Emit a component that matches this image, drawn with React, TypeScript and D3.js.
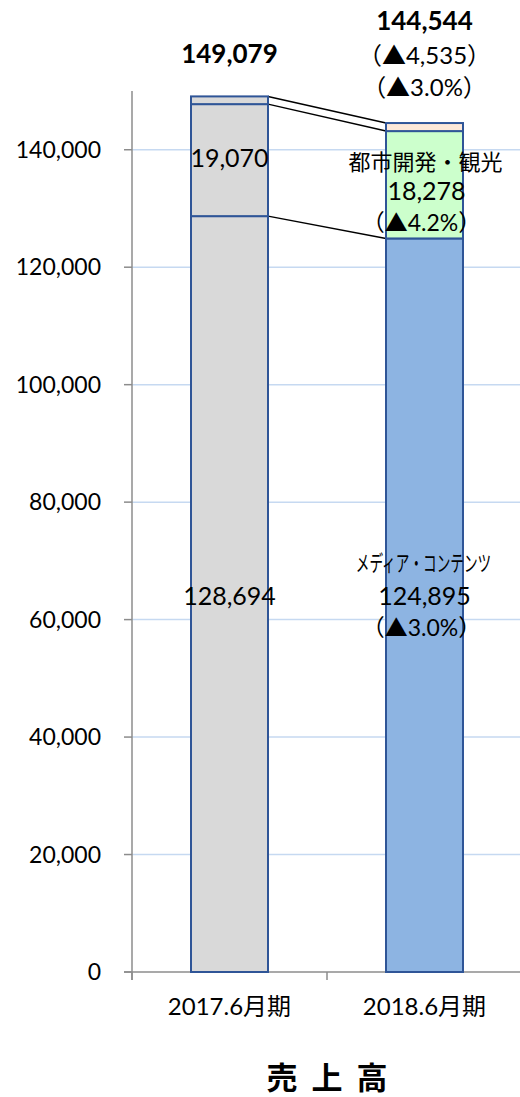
import React, { useRef, useEffect } from 'react';
import * as d3 from 'd3';

// ---- data ----
const categories = ['2017.6月期', '2018.6月期'];
const segmentKeys = ['media', 'urban', 'other'];
const mediaValues = [128694, 124895];
const urbanValues = [19070, 18278];
const otherValues = [1315, 1371];
const totals = [149079, 144544];
const yTicks = [0, 20000, 40000, 60000, 80000, 100000, 120000, 140000];

const W = 520;
const H = 1097;
const FONT = "Lato, 'Noto Sans CJK JP', sans-serif";
const JP = "'Noto Sans CJK JP', Lato, sans-serif";

const COLORS = {
  grey: '#D9D9D9',
  media: '#8DB4E2',
  urban: '#CCFFCC',
  other: '#FDE9D9',
  border: '#2F5597',
  grid: '#C6D9F1',
  axis: '#8C8C8C',
};

export default function App() {
  const svgRef = useRef<SVGSVGElement | null>(null);

  useEffect(() => {
    const svg = d3.select(svgRef.current);
    svg.selectAll('*').remove();

    const x = d3.scaleBand().domain(categories).range([132, 522]).paddingInner(0).paddingOuter(0);
    const y = d3.scaleLinear().domain([0, 150000]).range([972, 91]);
    const barW = 77;
    const bx = (c: string) => (x(c) as number) + x.bandwidth() / 2 - barW / 2;

    const rows = categories.map((c, i) => ({
      cat: c,
      media: mediaValues[i],
      urban: urbanValues[i],
      other: otherValues[i],
    }));
    const stacked = d3.stack<any>().keys(segmentKeys)(rows);

    // gridlines
    svg.append('g')
      .selectAll('line')
      .data(yTicks.slice(1))
      .enter()
      .append('line')
      .attr('x1', 132).attr('x2', W)
      .attr('y1', d => y(d)).attr('y2', d => y(d))
      .attr('stroke', COLORS.grid)
      .attr('stroke-width', 1.5);

    // y axis
    const ya = svg.append('g');
    ya.append('line')
      .attr('x1', 132).attr('x2', 132).attr('y1', y(150000)).attr('y2', y(0) + 8)
      .attr('stroke', COLORS.axis).attr('stroke-width', 1.5);
    ya.selectAll('.tick')
      .data(yTicks)
      .enter()
      .append('line')
      .attr('x1', 124).attr('x2', 132)
      .attr('y1', d => y(d)).attr('y2', d => y(d))
      .attr('stroke', COLORS.axis).attr('stroke-width', 1.5);
    ya.selectAll('text')
      .data(yTicks)
      .enter()
      .append('text')
      .attr('x', 101)
      .attr('y', d => y(d))
      .attr('dy', '0.36em')
      .attr('text-anchor', 'end')
      .attr('font-family', FONT)
      .attr('font-size', 23)
      .attr('fill', '#000')
      .text(d => d3.format(',')(d));

    // x axis
    const xa = svg.append('g');
    xa.append('line')
      .attr('x1', 124).attr('x2', W).attr('y1', y(0)).attr('y2', y(0))
      .attr('stroke', COLORS.axis).attr('stroke-width', 1.5);
    xa.selectAll('.tick')
      .data([132, 327, 522])
      .enter()
      .append('line')
      .attr('x1', d => d).attr('x2', d => d)
      .attr('y1', y(0)).attr('y2', y(0) + 8)
      .attr('stroke', COLORS.axis).attr('stroke-width', 1.5);
    xa.selectAll('text')
      .data(categories)
      .enter()
      .append('text')
      .attr('x', d => (x(d) as number) + x.bandwidth() / 2)
      .attr('y', 1015)
      .attr('text-anchor', 'middle')
      .attr('font-family', FONT)
      .attr('font-size', 24)
      .text(d => d);

    // connector lines between bars (drawn under bars)
    const boundaries = [
      [mediaValues[0], mediaValues[1]],
      [mediaValues[0] + urbanValues[0], mediaValues[1] + urbanValues[1]],
      [totals[0], totals[1]],
    ];
    svg.append('g')
      .selectAll('line')
      .data(boundaries)
      .enter()
      .append('line')
      .attr('x1', bx(categories[0]) + barW)
      .attr('x2', bx(categories[1]))
      .attr('y1', d => y(d[0]))
      .attr('y2', d => y(d[1]))
      .attr('stroke', '#000')
      .attr('stroke-width', 1.5);

    // bars
    const fillFor = (key: string, i: number) => (i === 0 ? COLORS.grey : (COLORS as any)[key]);
    stacked.forEach(layer => {
      svg.append('g')
        .selectAll('rect')
        .data(layer)
        .enter()
        .append('rect')
        .attr('x', d => bx(d.data.cat))
        .attr('width', barW)
        .attr('y', d => y(d[1]))
        .attr('height', d => y(d[0]) - y(d[1]))
        .attr('fill', (d, i) => fillFor(layer.key, i))
        .attr('stroke', COLORS.border)
        .attr('stroke-width', 2);
    });

    const cx0 = (x(categories[0]) as number) + x.bandwidth() / 2;
    const cx1 = (x(categories[1]) as number) + x.bandwidth() / 2;
    const label = (tx: number, ty: number, txt: string, size: number, opts: any = {}) => {
      const t = svg.append('text')
        .attr('x', tx).attr('y', ty)
        .attr('text-anchor', 'middle')
        .attr('font-family', opts.family || FONT)
        .attr('font-size', size)
        .attr('font-weight', opts.bold ? 'bold' : 'normal')
        .attr('fill', '#000')
        .text(txt);
      return t;
    };

    const fmt = d3.format(',');
    // totals
    label(cx0, 63, fmt(totals[0]), 26, { bold: true });
    label(cx1, 30, fmt(totals[1]), 26, { bold: true });
    label(cx1 + 0, 64, `（▲${fmt(totals[0] - totals[1])}）`, 24);
    label(cx1 + 0, 96, `（▲${((totals[0] - totals[1]) / totals[0] * 100).toFixed(1)}%）`, 24);

    // segment labels
    label(cx0, 167, fmt(urbanValues[0]), 25);
    label(cx0, 605, fmt(mediaValues[0]), 25);

    label(cx1 + 1, 170, '都市開発・観光', 22, { family: JP });
    label(cx1 + 2, 200, fmt(urbanValues[1]), 25);
    label(cx1 - 3, 231, `（▲${((urbanValues[0] - urbanValues[1]) / urbanValues[0] * 100).toFixed(1)}%）`, 23);

    // narrow (half-width style) label, compressed horizontally
    svg.append('text')
      .attr('transform', `translate(${cx1 - 1},571) scale(0.62,1)`)
      .attr('text-anchor', 'middle')
      .attr('font-family', JP)
      .attr('font-size', 22)
      .attr('fill', '#000')
      .text('メディア・コンテンツ');
    label(cx1, 605, fmt(mediaValues[1]), 25);
    label(cx1 - 3, 636, `（▲${((mediaValues[0] - mediaValues[1]) / mediaValues[0] * 100).toFixed(1)}%）`, 23);

    // title
    svg.append('text')
      .attr('x', 327)
      .attr('y', 1089)
      .attr('text-anchor', 'middle')
      .attr('font-family', JP)
      .attr('font-size', 31)
      .attr('font-weight', 'bold')
      .attr('xml:space', 'preserve')
      .text('売  上  高');
  }, []);

  return (
    <svg
      ref={svgRef}
      width={W}
      height={H}
      viewBox={`0 0 ${W} ${H}`}
      style={{ position: 'absolute', left: 0, top: 0, background: '#fff', display: 'block' }}
    />
  );
}
